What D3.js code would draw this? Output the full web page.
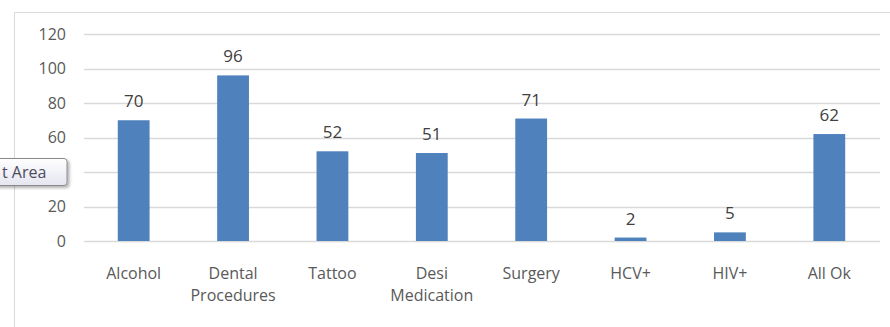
<!DOCTYPE html>
<html>
<head>
<meta charset="utf-8">
<script src="https://cdn.jsdelivr.net/npm/d3@7"></script>
<style>
  body { margin: 0; background: #fff; }
  svg { display: block; font-family: "Open Sans", "Liberation Sans", sans-serif; }
</style>
</head>
<body>
<svg id="chart" width="890" height="327"></svg>
<script>
const categories = ["Alcohol", "Dental\nProcedures", "Tattoo", "Desi\nMedication", "Surgery", "HCV+", "HIV+", "All Ok"];
const values = [70, 96, 52, 51, 71, 2, 5, 62];
const yTicks = [0, 20, 40, 60, 80, 100, 120];

const svg = d3.select("#chart");
const margin = { top: 34, right: 10, bottom: 86, left: 84 };

// chart area border (cut off at right and bottom)
svg.append("path")
  .attr("d", "M14.5,327 V12.5 H890")
  .attr("fill", "none")
  .attr("stroke", "#d9d9d9");

const x = d3.scaleBand()
  .domain(categories)
  .range([margin.left, 879])
  .paddingInner(0.68)
  .paddingOuter(0.34);

const y = d3.scaleLinear()
  .domain([0, 120])
  .range([241, margin.top]);

// gridlines
svg.append("g")
  .selectAll("line")
  .data(yTicks)
  .join("line")
  .attr("x1", margin.left)
  .attr("x2", 880)
  .attr("y1", d => Math.round(y(d)) + 0.5)
  .attr("y2", d => Math.round(y(d)) + 0.5)
  .attr("stroke", "#d9d9d9")
  .attr("stroke-width", 1.5);

// y axis labels
const yAxis = svg.append("g")
  .attr("transform", `translate(${margin.left - 18},0)`)
  .call(d3.axisLeft(y).tickValues(yTicks).tickSize(0).tickPadding(0));
yAxis.select(".domain").remove();
yAxis.selectAll("text")
  .attr("font-size", 16)
  .attr("font-family", "Open Sans, sans-serif")
  .attr("fill", "#595959");

// bars
svg.append("g")
  .selectAll("rect")
  .data(values)
  .join("rect")
  .attr("x", (d, i) => x(categories[i]))
  .attr("width", x.bandwidth())
  .attr("y", d => y(d))
  .attr("height", d => y(0) - y(d))
  .attr("fill", "#4f81bd");

// value labels
svg.append("g")
  .selectAll("text")
  .data(values)
  .join("text")
  .attr("x", (d, i) => x(categories[i]) + x.bandwidth() / 2)
  .attr("y", d => y(d) - 13)
  .attr("text-anchor", "middle")
  .attr("font-size", 17)
  .attr("fill", "#404040")
  .text(d => d);

// x axis labels
const xl = svg.append("g")
  .selectAll("text")
  .data(categories)
  .join("text")
  .attr("x", d => x(d) + x.bandwidth() / 2)
  .attr("y", 279)
  .attr("text-anchor", "middle")
  .attr("font-size", 16)
  .attr("fill", "#595959");
xl.selectAll("tspan")
  .data(d => d.split("\n"))
  .join("tspan")
  .attr("x", function () { return d3.select(this.parentNode).attr("x"); })
  .attr("dy", (d, i) => i === 0 ? 0 : 22)
  .text(d => d);

// tooltip (cut at the left edge of the picture)
const defs = svg.append("defs");
const grad = defs.append("linearGradient").attr("id", "tipGrad").attr("x1", 0).attr("y1", 0).attr("x2", 0).attr("y2", 1);
grad.append("stop").attr("offset", "0%").attr("stop-color", "#ffffff");
grad.append("stop").attr("offset", "100%").attr("stop-color", "#e4e5f0");
const filt = defs.append("filter").attr("id", "tipShadow").attr("x", "-20%").attr("y", "-20%").attr("width", "150%").attr("height", "160%");
filt.append("feDropShadow").attr("dx", 2).attr("dy", 2).attr("stdDeviation", 1.5).attr("flood-color", "#000").attr("flood-opacity", 0.3);

const tip = svg.append("g");
tip.append("rect")
  .attr("x", -10).attr("y", 158.5)
  .attr("width", 77).attr("height", 27)
  .attr("rx", 3)
  .attr("fill", "url(#tipGrad)")
  .attr("stroke", "#8a8a8a")
  .attr("filter", "url(#tipShadow)");
tip.append("text")
  .attr("x", 2).attr("y", 178)
  .attr("font-size", 16)
  .attr("fill", "#4c4c5c")
  .text("t Area");
</script>
</body>
</html>
